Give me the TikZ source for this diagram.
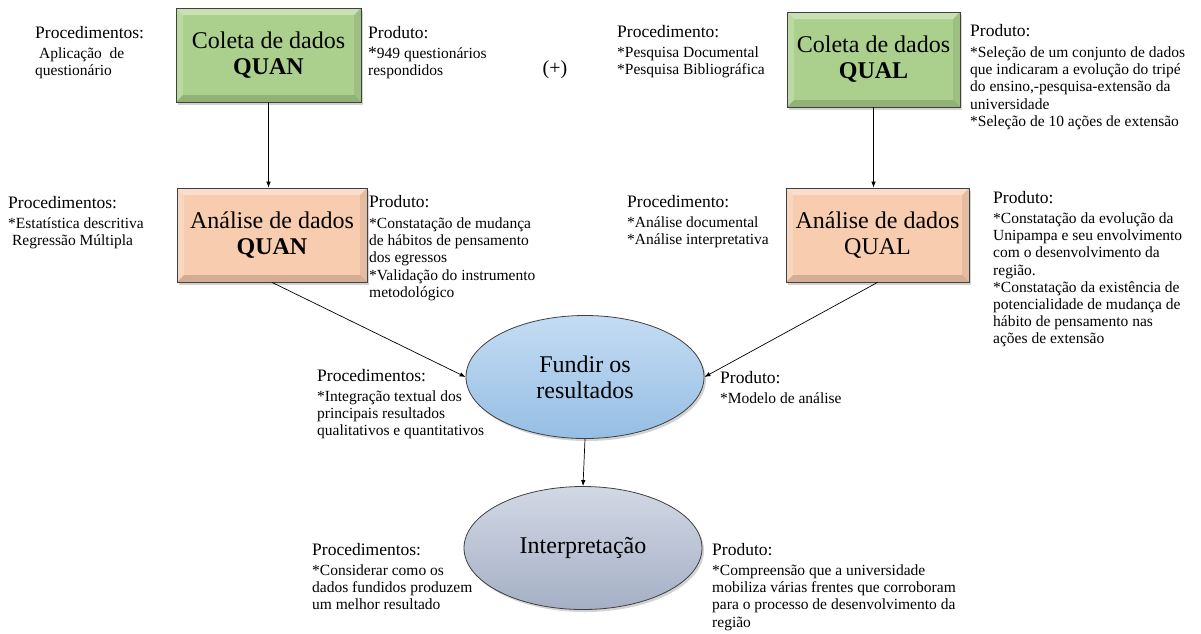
\documentclass[tikz,border=0pt]{standalone}
\usepackage{fontspec}
\setmainfont{Liberation Serif}
\usetikzlibrary{arrows.meta}
\usetikzlibrary{shapes.geometric}
\usetikzlibrary{shadows}

\definecolor{coletaverde}{RGB}{171,208,141}
\definecolor{analisepessego}{RGB}{248,204,175}
\definecolor{fundirazul}{RGB}{150,190,228}
\definecolor{fundirazulclaro}{RGB}{196,220,243}
\definecolor{interpcinza}{RGB}{165,176,198}
\definecolor{interpcinzaclaro}{RGB}{210,216,228}

\newcommand{\cabec}[1]{{\fontsize{17.5}{20}\selectfont #1}}

\tikzset{
  etapa/.style 2 args={rectangle, draw=black!75, line width=0.8pt,
    minimum width=#1, minimum height=#2, align=center,
    font=\fontsize{24}{26}\selectfont,
    drop shadow={shadow xshift=2pt, shadow yshift=-2.5pt, opacity=0.35},
    path picture={
      \coordinate (bnw) at (path picture bounding box.north west);
      \coordinate (bne) at (path picture bounding box.north east);
      \coordinate (bsw) at (path picture bounding box.south west);
      \coordinate (bse) at (path picture bounding box.south east);
      \fill[white, opacity=0.35] (bnw) -- (bne) -- ([shift={(-7pt,-7pt)}]bne) -- ([shift={(7pt,-7pt)}]bnw) -- cycle;
      \fill[white, opacity=0.2] (bnw) -- (bsw) -- ([shift={(7pt,7pt)}]bsw) -- ([shift={(7pt,-7pt)}]bnw) -- cycle;
      \fill[black, opacity=0.15] (bsw) -- (bse) -- ([shift={(-7pt,7pt)}]bse) -- ([shift={(7pt,7pt)}]bsw) -- cycle;
      \fill[black, opacity=0.08] (bne) -- (bse) -- ([shift={(-7pt,7pt)}]bse) -- ([shift={(-7pt,-7pt)}]bne) -- cycle;
    }},
  bolha/.style={ellipse, draw=black!75, line width=0.8pt, align=center,
    minimum width=238pt, minimum height=123pt,
    font=\fontsize{24}{26}\selectfont,
    drop shadow={shadow xshift=2pt, shadow yshift=-2.5pt, opacity=0.35}},
  txt/.style={anchor=north west, align=left, inner sep=0pt,
    font=\fontsize{15.5}{17.2}\selectfont},
  seta/.style={-{Latex[length=6pt,width=4.5pt]}, line width=0.7pt}
}

\begin{document}
\begin{tikzpicture}[x=1pt, y=-1pt]
  \useasboundingbox (0,0) rectangle (1201,633);

  % etapas
  \node[etapa={185pt}{94pt}, fill=coletaverde] (coletaquan) at (268.5,55) {Coleta de dados\\\textbf{QUAN}};
  \node[etapa={173pt}{95pt}, fill=coletaverde] (coletaqual) at (873.5,59.5) {Coleta de dados\\\textbf{QUAL}};
  \node[etapa={190pt}{94pt}, fill=analisepessego] (analisequan) at (272,235) {Análise de dados\\\textbf{QUAN}};
  \node[etapa={183pt}{94pt}, fill=analisepessego] (analisequal) at (877.5,235) {Análise de dados\\QUAL};
  \node[bolha, top color=fundirazulclaro, bottom color=fundirazul] (fundir) at (585,377) {Fundir os\\resultados};
  \node[bolha, top color=interpcinzaclaro, bottom color=interpcinza] (interp) at (583,548) {Interpretação};

  \node[font=\fontsize{20}{22}\selectfont] (mais) at (555,70) {(+)};

  % setas
  \draw[seta] (coletaquan.south) -- (coletaquan.south |- analisequan.north);
  \draw[seta] (coletaqual.south) -- (coletaqual.south |- analisequal.north);
  \draw[seta] (analisequan.south) -- (fundir.west);
  \draw[seta] (analisequal.south) -- (fundir.east);
  \draw[seta] (fundir.south) -- (interp.north);

  % procedimentos e produtos
  \node[txt] (procquan1) at (35,26) {\cabec{Procedimentos:}\\[3pt]\ Aplicação\ \ de\\questionário};
  \node[txt] (prodquan1) at (368,26) {\cabec{Produto:}\\[3pt]\cabec{*}949 questionários\\respondidos};
  \node[txt] (procqual1) at (617,25) {\cabec{Procedimento:}\\[3pt]*Pesquisa Documental\\*Pesquisa Bibliográfica};
  \node[txt] (prodqual1) at (970,24) {\cabec{Produto:}\\[4pt]*Seleção de um conjunto de dados\\que indicaram a evolução do tripé\\do ensino,-pesquisa-extensão da\\universidade\\*Seleção de 10 ações de extensão};

  \node[txt] (procquan2) at (8,196) {\cabec{Procedimentos:}\\[3pt]*Estatística descritiva\\\ Regressão Múltipla};
  \node[txt] (prodquan2) at (369,195) {\cabec{Produto:}\\[4pt]*Constatação de mudança\\de hábitos de pensamento\\dos egressos\\*Validação do instrumento\\metodológico};
  \node[txt] (procqual2) at (627,195) {\cabec{Procedimento:}\\[3pt]*Análise documental\\*Análise interpretativa};
  \node[txt] (prodqual2) at (993,191) {\cabec{Produto:}\\[3pt]*Constatação da evolução da\\Unipampa e seu envolvimento\\com o desenvolvimento da\\região.\\*Constatação da existência de\\potencialidade de mudança de\\hábito de pensamento nas\\ações de extensão};

  \node[txt] (procfundir) at (317,369) {\cabec{Procedimentos:}\\[3pt]*Integração textual dos\\principais resultados\\qualitativos e quantitativos};
  \node[txt] (prodfundir) at (720,371) {\cabec{Produto:}\\[3pt]*Modelo de análise};

  \node[txt] (procinterp) at (312,543) {\cabec{Procedimentos:}\\[3pt]*Considerar como os\\dados fundidos produzem\\um melhor resultado};
  \node[txt] (prodinterp) at (712,543) {\cabec{Produto:}\\[3pt]*Compreensão que a universidade\\mobiliza várias frentes que corroboram\\para o processo de desenvolvimento da\\região};
\end{tikzpicture}
\end{document}
